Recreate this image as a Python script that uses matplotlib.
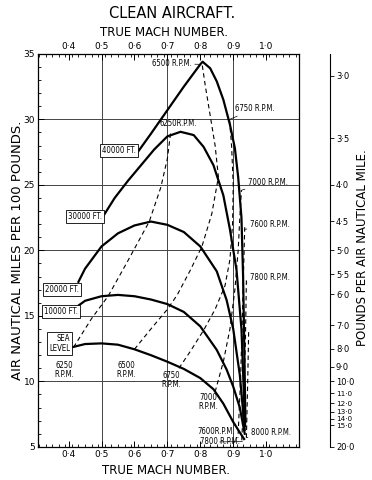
import matplotlib.pyplot as plt

# altitude curves: true mach number vs air nautical miles per 100 lb
sea_level_m = [0.41, 0.45, 0.50, 0.55, 0.60, 0.65, 0.70, 0.75, 0.80, 0.84, 0.87, 0.90, 0.92, 0.933]
sea_level_v = [12.6, 12.85, 12.9, 12.8, 12.45, 12.0, 11.5, 10.95, 10.25, 9.4, 8.3, 6.9, 6.1, 5.6]

ft10000_m = [0.42, 0.45, 0.50, 0.55, 0.60, 0.65, 0.70, 0.75, 0.80, 0.85, 0.88, 0.90, 0.92, 0.935]
ft10000_v = [15.6, 16.15, 16.5, 16.6, 16.5, 16.25, 15.9, 15.3, 14.2, 12.4, 10.9, 9.6, 8.0, 6.0]

ft20000_m = [0.43, 0.45, 0.50, 0.55, 0.60, 0.65, 0.70, 0.75, 0.80, 0.85, 0.88, 0.90, 0.92, 0.935]
ft20000_v = [17.6, 18.6, 20.3, 21.3, 21.9, 22.2, 21.95, 21.4, 20.3, 18.4, 16.2, 14.0, 10.5, 6.3]

ft30000_m = [0.505, 0.54, 0.58, 0.62, 0.66, 0.70, 0.74, 0.78, 0.81, 0.84, 0.87, 0.89, 0.91, 0.925, 0.936]
ft30000_v = [22.6, 24.0, 25.3, 26.5, 27.7, 28.7, 29.05, 28.8, 27.9, 26.5, 24.2, 21.6, 18.5, 14.0, 6.6]

ft40000_m = [0.61, 0.65, 0.70, 0.75, 0.80, 0.807, 0.83, 0.85, 0.87, 0.89, 0.905, 0.915, 0.925, 0.93, 0.934, 0.937]
ft40000_v = [27.5, 28.9, 30.7, 32.5, 34.2, 34.4, 33.9, 32.9, 31.5, 29.6, 27.8, 25.6, 22.5, 18.0, 12.0, 6.9]

# constant r.p.m. lines
rpm6250_m = [0.415, 0.47, 0.52, 0.58, 0.645, 0.68, 0.70, 0.71]
rpm6250_v = [12.6, 14.8, 16.5, 19.2, 22.2, 24.8, 27.0, 29.0]

rpm6500_m = [0.60, 0.65, 0.70, 0.73, 0.77, 0.805, 0.835, 0.855, 0.845, 0.83, 0.815, 0.805]
rpm6500_v = [12.45, 14.0, 15.5, 16.6, 18.5, 20.3, 22.8, 25.6, 28.0, 30.3, 32.6, 34.3]

rpm6750_m = [0.735, 0.77, 0.81, 0.845, 0.875, 0.89, 0.898, 0.90, 0.895, 0.888]
rpm6750_v = [11.0, 12.3, 13.9, 15.5, 17.3, 19.3, 22.0, 25.0, 28.0, 30.2]

rpm7000_m = [0.845, 0.87, 0.89, 0.905, 0.915, 0.92, 0.925]
rpm7000_v = [9.2, 11.5, 14.0, 17.0, 20.0, 22.5, 24.6]

rpm7600_m = [0.915, 0.922, 0.928, 0.932, 0.935]
rpm7600_v = [6.0, 10.0, 15.0, 19.0, 21.8]

rpm7800_m = [0.926, 0.932, 0.937, 0.94]
rpm7800_v = [5.5, 9.0, 13.0, 17.8]

rpm8000_m = [0.94, 0.944, 0.947]
rpm8000_v = [5.7, 10.0, 14.0]

mach_ticks = [0.4, 0.5, 0.6, 0.7, 0.8, 0.9, 1.0]
mach_labels = ["0·4", "0·5", "0·6", "0·7", "0·8", "0·9", "1·0"]
anm_ticks = [5, 10, 15, 20, 25, 30, 35]
grid_m = [0.5, 0.7, 0.9]
grid_v = [10, 15, 20, 25, 30]
pounds = [3.0, 3.5, 4.0, 4.5, 5.0, 5.5, 6.0, 7.0, 8.0, 9.0, 10.0,
          11.0, 12.0, 13.0, 14.0, 15.0, 20.0]

plt.rcParams['font.family'] = 'DejaVu Sans'

fig = plt.figure(figsize=(3.72, 4.8), dpi=100)
ax = fig.add_axes([0.102, 0.069, 0.702, 0.8188])
ax.set_xlim(0.307, 1.10)
ax.set_ylim(5, 35)

for m in grid_m:
    ax.axvline(m, color='#444444', lw=0.7, zorder=1)
for v in grid_v:
    ax.axhline(v, color='#444444', lw=0.7, zorder=1)

solid = dict(color='black', lw=1.6, zorder=3)
for mm, vv in [(sea_level_m, sea_level_v), (ft10000_m, ft10000_v),
               (ft20000_m, ft20000_v), (ft30000_m, ft30000_v),
               (ft40000_m, ft40000_v)]:
    ax.plot(mm, vv, **solid)

dash = dict(color='black', lw=0.8, dashes=(4, 3), zorder=2)
for mm, vv in [(rpm6250_m, rpm6250_v), (rpm6500_m, rpm6500_v),
               (rpm6750_m, rpm6750_v), (rpm7000_m, rpm7000_v),
               (rpm7600_m, rpm7600_v), (rpm7800_m, rpm7800_v),
               (rpm8000_m, rpm8000_v)]:
    ax.plot(mm, vv, **dash)

ax.set_xticks(mach_ticks)
ax.set_xticklabels(mach_labels)
ax.set_xticks([0.31 + 0.02 * i for i in range(40)], minor=True)
ax.set_yticks(anm_ticks)
ax.set_yticks(range(5, 36), minor=True)
ax.tick_params(which='both', direction='in', top=True, right=True,
               labeltop=True, labelright=True, labelsize=6.5, pad=2)
ax.tick_params(which='major', length=4, width=0.7)
ax.tick_params(which='minor', length=2.5, width=0.6)
for s in ax.spines.values():
    s.set_linewidth(0.9)

# pounds per air nautical mile scale
ax2 = ax.twinx()
ax2.set_ylim(5, 35)
ax2.set_yticks([100.0 / p for p in pounds])
ax2.set_yticklabels([f"{p:.1f}".replace('.', '·') for p in pounds])
ax2.spines['right'].set_position(('axes', 1.12))
for side in ['left', 'top', 'bottom']:
    ax2.spines[side].set_visible(False)
ax2.spines['right'].set_linewidth(0.8)
ax2.tick_params(direction='out', length=3, width=0.6, labelsize=6, pad=1)
for t, p in zip(ax2.get_yticklabels(), pounds):
    if 11 <= p <= 15:
        t.set_fontsize(5.2)

box = dict(boxstyle='square,pad=0.25', fc='white', ec='black', lw=0.6)
lab = dict(fontsize=5.6, fontstretch='condensed', zorder=5)
ax.text(0.605, 27.6, "40000 FT.", ha='right', va='center', bbox=box, **lab)
ax.text(0.502, 22.6, "30000 FT.", ha='right', va='center', bbox=box, **lab)
ax.text(0.432, 17.0, "20000 FT.", ha='right', va='center', bbox=box, **lab)
ax.text(0.428, 15.3, "10000 FT.", ha='right', va='center', bbox=box, **lab)
ax.text(0.405, 12.9, "SEA\nLEVEL", ha='right', va='center', bbox=box,
        linespacing=1.2, **lab)

ax.text(0.387, 10.9, "6250\nR.P.M.", ha='center', va='center', linespacing=1.0, **lab)
ax.text(0.575, 10.9, "6500\nR.P.M.", ha='center', va='center', linespacing=1.0, **lab)
ax.text(0.712, 10.1, "6750\nR.P.M.", ha='center', va='center', linespacing=1.0, **lab)
ax.text(0.825, 8.4, "7000\nR.P.M.", ha='center', va='center', linespacing=1.0, **lab)
ax.text(0.675, 29.65, "6250R.P.M.", ha='left', va='center', **lab)

lead = dict(arrowstyle='-', lw=0.5, color='black', shrinkA=0, shrinkB=0)
ax.annotate("6500 R.P.M.", xy=(0.80, 34.2), xytext=(0.775, 34.25),
            ha='right', va='center', arrowprops=lead, **lab)
ax.annotate("6750 R.P.M.", xy=(0.889, 30.0), xytext=(0.905, 30.8),
            ha='left', va='center', arrowprops=lead, **lab)
ax.annotate("7000 R.P.M.", xy=(0.926, 24.6), xytext=(0.944, 25.2),
            ha='left', va='center', arrowprops=lead, **lab)
ax.annotate("7600 R.P.M.", xy=(0.935, 21.6), xytext=(0.95, 22.0),
            ha='left', va='center', arrowprops=lead, **lab)
ax.annotate("7800 R.P.M.", xy=(0.94, 17.5), xytext=(0.95, 17.9),
            ha='left', va='center', arrowprops=lead, **lab)
ax.annotate("8000 R.P.M.", xy=(0.94, 5.7), xytext=(0.953, 6.07),
            ha='left', va='center', arrowprops=lead, **lab)
ax.annotate("7600R.P.M.", xy=(0.915, 5.7), xytext=(0.905, 6.15),
            ha='right', va='center', arrowprops=lead, **lab)
ax.annotate("7800 R.P.M.", xy=(0.928, 5.4), xytext=(0.92, 5.38),
            ha='right', va='center', arrowprops=lead, **lab)

fig.text(172 / 372, 1 - 13 / 480, "CLEAN AIRCRAFT.", ha='center', va='center',
         fontsize=10.5)
fig.text(164 / 372, 1 - 33 / 480, "TRUE MACH NUMBER.", ha='center', va='center',
         fontsize=8.5)
fig.text(166 / 372, 1 - 470 / 480, "TRUE MACH NUMBER.", ha='center', va='center',
         fontsize=8.5)
fig.text(18 / 372, 1 - 250 / 480, "AIR NAUTICAL MILES PER 100 POUNDS.",
         rotation=90, ha='center', va='center', fontsize=9.5)
fig.text(362 / 372, 1 - 248 / 480, "POUNDS PER AIR NAUTICAL MILE.",
         rotation=90, ha='center', va='center', fontsize=8.5)

fig.savefig('out.png', dpi=100)
